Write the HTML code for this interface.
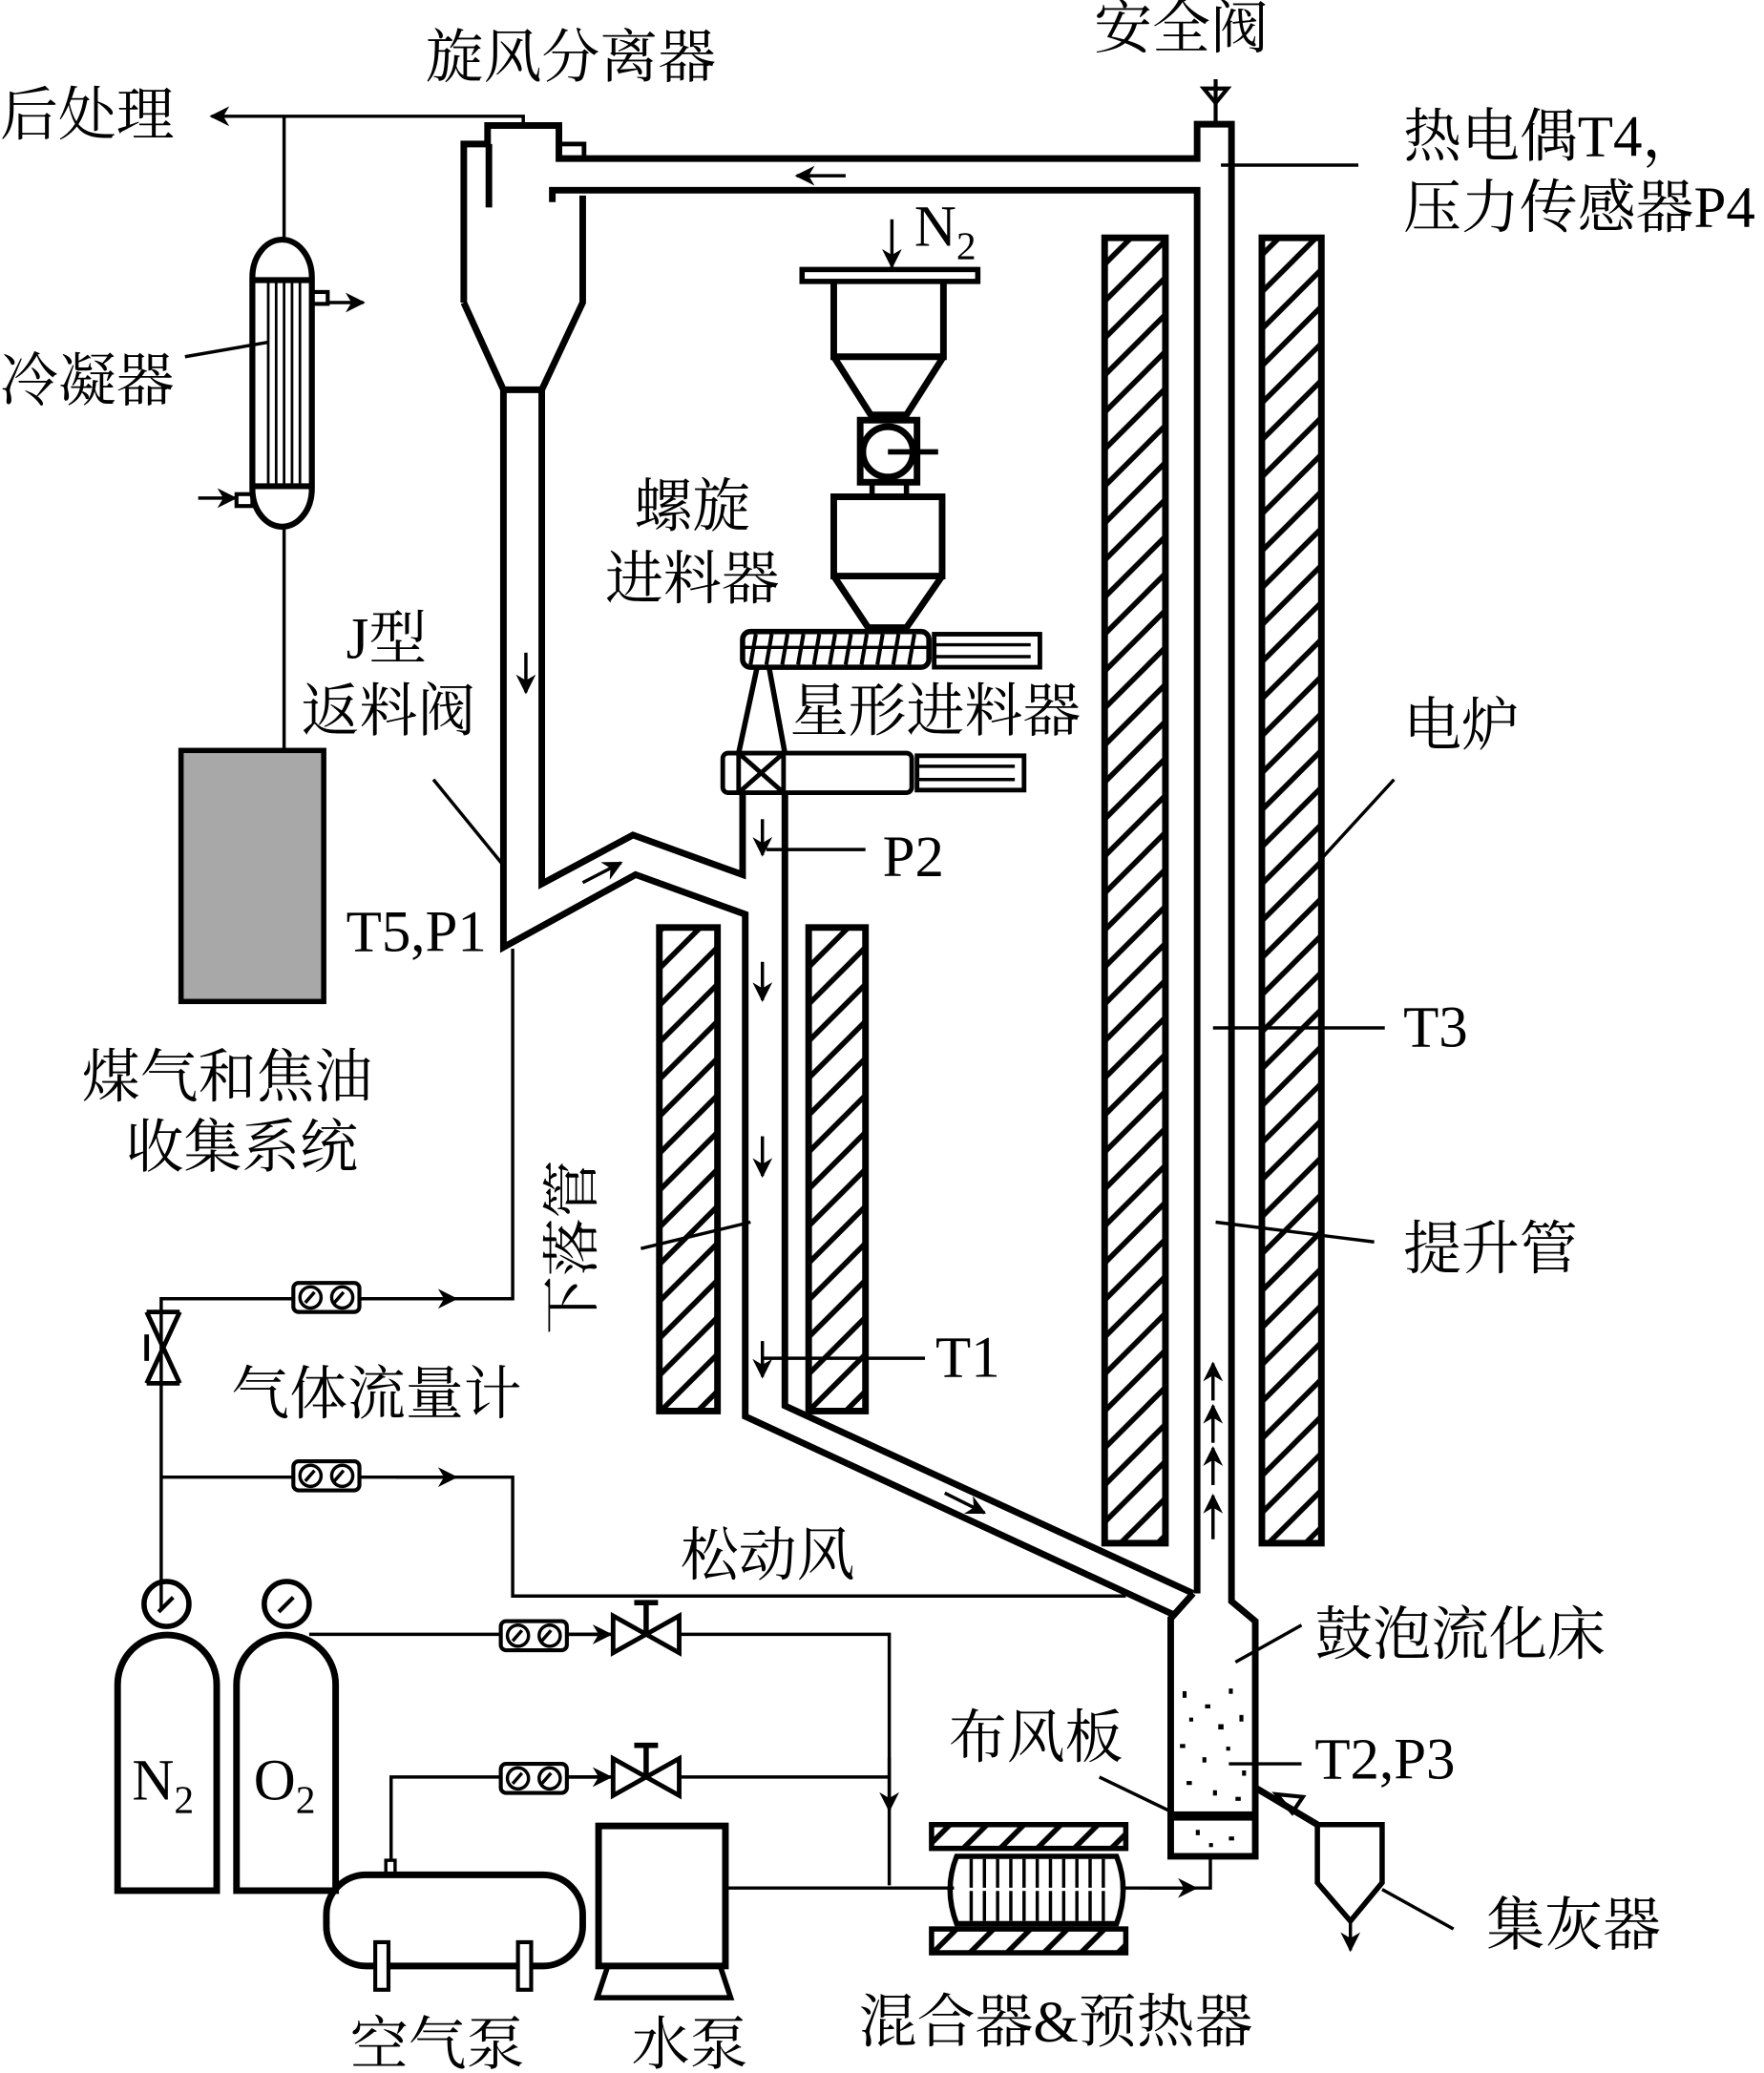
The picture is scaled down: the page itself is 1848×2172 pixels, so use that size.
<!DOCTYPE html>
<html><head><meta charset="utf-8"><style>
html,body{margin:0;padding:0;background:#fff;}
svg{display:block;}
text{font-family:"Liberation Serif","Noto Serif CJK SC","Noto Sans CJK SC",serif;font-size:44px;fill:#000;}
</style></head><body>
<svg width="1848" height="2172" viewBox="0 0 1335 1569" preserveAspectRatio="none" xmlns="http://www.w3.org/2000/svg">
<defs>
<pattern id="h" width="28" height="28" patternUnits="userSpaceOnUse">
<path d="M-7,35 L35,-7 M-21,21 L21,-21 M7,49 L49,7" stroke="#000" stroke-width="4"/>
</pattern>
<marker id="a" viewBox="0 0 10 10" refX="9" refY="5" markerWidth="6" markerHeight="6" orient="auto"><path d="M0,0 L10,5 L0,10 L3,5z" fill="#000"/></marker>
<g id="fm"><rect x="0" y="0" width="50" height="22" rx="4" fill="#fff" stroke="#000" stroke-width="3"/><circle cx="13" cy="11" r="8" fill="none" stroke="#000" stroke-width="2.5"/><circle cx="37" cy="11" r="8" fill="none" stroke="#000" stroke-width="2.5"/><path d="M9,15 L16,7 M31,15 L38,7" stroke="#000" stroke-width="2.5"/></g>
<g id="vl"><path d="M0,0 L50,28 L50,0 L0,28z" fill="#fff" stroke="#000" stroke-width="3.5"/><path d="M25,14 V-10 M16,-10 H34" stroke="#000" stroke-width="4"/></g>
</defs>
<g fill="none" stroke="#000" stroke-width="5" stroke-linejoin="miter">
<rect x="836" y="180" width="46" height="988" fill="url(#h)"/>
<rect x="955" y="180" width="45" height="988" fill="url(#h)"/>
<rect x="499" y="702" width="44" height="366" fill="url(#h)"/>
<rect x="612" y="702" width="43" height="366" fill="url(#h)"/>
<path d="M351,229 V109 H369 V95 H423 V120 H906 V94 H932 V1212 L950,1227 V1405 H886 V1225 L903,1206"/>
<path d="M351,229 L381,295 V717 L481,662 L564,692 V1072 L888,1222"/>
<path d="M441,148 V229 L410,295 V669 L479,632 L562,662 V600"/>
<path d="M418,153 V144 H906 V1206"/>
<path d="M594,600 V1064 L903,1206"/>
<path d="M370,109 V157"/>
<path d="M381,295 H410"/>
<rect x="423" y="109" width="19" height="11" stroke-width="3.5"/>
<path d="M920,94 V60" stroke-width="3"/>
<path d="M911,67 H929 L920,78z" stroke-width="3"/>
<rect x="607" y="204" width="133" height="9" stroke-width="4"/>
<path d="M631,213 V270 H714 V213 M631,270 L659,314 H686 L714,270"/>
<rect x="651" y="318" width="43" height="47"/>
<circle cx="672" cy="342" r="19"/>
<path d="M672,342 H710" stroke-width="4"/>
<path d="M660,365 V376 M686,365 V376 M660,314 V318 M686,314 V318" stroke-width="4"/>
<path d="M631,376 H713 V436 H631z M631,436 L657,475 H686 L713,436"/>
<rect x="562" y="478" width="141" height="27" rx="6" stroke-width="4"/>
<path d="M572,480 L568,503 M584,480 L580,503 M596,480 L592,503 M608,480 L604,503 M620,480 L616,503 M632,480 L628,503 M644,480 L640,503 M656,480 L652,503 M668,480 L664,503 M680,480 L676,503 M692,480 L688,503" stroke-width="3"/>
<path d="M562,490 H703" stroke-width="2.5"/>
<rect x="707" y="480" width="80" height="25" stroke-width="3.5"/>
<path d="M707,488 H780 M707,497 H780" stroke-width="2.5"/>
<path d="M573,505 L559,570 M582,505 L594,570" stroke-width="4"/>
<rect x="547" y="570" width="143" height="30" rx="4" stroke-width="3.5"/>
<path d="M559,570 V600 M593,570 V600 M559,570 L593,600 M593,570 L559,600" stroke-width="3.5"/>
<rect x="694" y="572" width="81" height="26" stroke-width="3.5"/>
<path d="M694,580 H768 M694,590 H768" stroke-width="2.5"/>
<path d="M191,210 A22,28 0 0 1 236,210 V370 A22,28 0 0 1 191,370z" stroke-width="4.5"/>
<path d="M191,212 H236 M191,368 H236" stroke-width="4.5"/>
<path d="M203,212 V368 M209,212 V368 M215,212 V368 M221,212 V368 M227,212 V368" stroke-width="2"/>
<rect x="236" y="221" width="12" height="9" stroke-width="3"/>
<rect x="179" y="374" width="12" height="9" stroke-width="3"/>
<rect x="137" y="568" width="108" height="190" fill="#a8a8a8" stroke-width="4"/>
<rect x="886" y="1371" width="64" height="7" fill="#000" stroke="none"/>
<path d="M950,1353 L997,1381"/>
<path d="M997,1381 H1046 V1425 L1022,1454 L997,1425z" stroke-width="4"/>
<path d="M966,1358 L978,1372 L986,1360z" stroke-width="3"/>
<path d="M89,1431 V1275 A37,37 0 0 1 164,1275 V1431z"/>
<path d="M179,1431 V1275 A37,37 0 0 1 254,1275 V1431z"/>
<circle cx="126" cy="1214" r="17" stroke-width="4"/>
<circle cx="217" cy="1214" r="17" stroke-width="4"/>
<path d="M120,1220 L131,1209 M211,1220 L222,1209" stroke-width="3"/>
<rect x="247" y="1419" width="194" height="69" rx="30"/>
<rect x="284" y="1470" width="10" height="36" fill="#fff" stroke-width="3"/>
<rect x="392" y="1470" width="10" height="36" fill="#fff" stroke-width="3"/>
<rect x="292" y="1408" width="7" height="11" stroke-width="2.5"/>
<rect x="453" y="1382" width="96" height="106"/>
<path d="M460,1488 L452,1512 H553 L545,1488" stroke-width="4"/>
<rect x="705" y="1381" width="147" height="18" fill="url(#h)" stroke-width="4"/>
<rect x="705" y="1460" width="147" height="18" fill="url(#h)" stroke-width="4"/>
<path d="M724,1405 H845 Q855,1430 845,1456 H724 Q714,1430 724,1405z" stroke-width="4"/>
<path d="M735,1407 V1454 M745,1407 V1454 M755,1407 V1454 M765,1407 V1454 M775,1407 V1454 M785,1407 V1454 M795,1407 V1454 M805,1407 V1454 M815,1407 V1454 M825,1407 V1454 M835,1407 V1454" stroke-width="2.5"/>
<path d="M728,1430 H840" stroke-width="2.5" stroke="#fff"/>
</g>
<g fill="none" stroke="#000" stroke-width="2.5">
<path d="M396,95 V88 H160" marker-end="url(#a)"/>
<path d="M215,88 V182 M215,398 V568"/>
<path d="M248,229 H275" marker-end="url(#a)"/>
<path d="M150,377 H178" marker-end="url(#a)"/>
<path d="M140,270 L203,259"/>
<path d="M388,718 V983 H122 V1218 M122,1118 H388 V1208 H852"/>
<path d="M300,983 H345" marker-end="url(#a)"/>
<path d="M300,1118 H345" marker-end="url(#a)"/>
<path d="M234,1237 H673 V1427 M296,1408 V1345 H673 M549,1429 H722"/>
<path d="M848,1429 H916 V1405"/>
<path d="M870,1429 H905" marker-end="url(#a)"/>
<path d="M673,1330 V1370" marker-end="url(#a)"/>
<path d="M430,1237 H462" marker-end="url(#a)"/>
<path d="M430,1345 H462" marker-end="url(#a)"/>
<path d="M1022,1454 V1476" marker-end="url(#a)"/>
<path d="M675,166 V202" marker-end="url(#a)"/>
<path d="M924,125 H1028 M328,590 L381,655 M1055,590 L1000,650 M580,643 H655 M918,778 H1048 M920,925 L1040,940 M485,945 L568,925 M577,1028 H700 M935,1258 L985,1230 M930,1335 H985 M832,1345 L888,1372 M1046,1430 L1100,1460"/>
<path d="M640,133 H603" marker-end="url(#a)"/>
<path d="M398,494 V524" marker-end="url(#a)"/>
<path d="M441,668 L470,653" marker-end="url(#a)"/>
<path d="M577,620 V647" marker-end="url(#a)"/>
<path d="M577,728 V757" marker-end="url(#a)"/>
<path d="M577,860 V890" marker-end="url(#a)"/>
<path d="M577,1015 V1042" marker-end="url(#a)"/>
<path d="M715,1130 L745,1145" marker-end="url(#a)"/>
<path d="M918,1060 V1032" marker-end="url(#a)"/>
<path d="M918,1092 V1064" marker-end="url(#a)"/>
<path d="M918,1124 V1096" marker-end="url(#a)"/>
<path d="M918,1165 V1132" marker-end="url(#a)"/>
</g>
<g stroke="#000" stroke-width="3.5"><path d="M111,993 L136,1047 M136,993 L111,1047 M111,993 H136 M111,1047 H136" fill="#fff"/><path d="M111,1010 V1030"/></g>
<use href="#fm" x="222" y="971"/>
<use href="#fm" x="222" y="1106"/>
<use href="#fm" x="379" y="1227"/>
<use href="#fm" x="379" y="1335"/>
<use href="#vl" x="464" y="1223"/>
<use href="#vl" x="464" y="1331"/>
<g fill="#000">
<rect x="895" y="1280" width="3" height="5"/><rect x="912" y="1290" width="4" height="3"/><rect x="930" y="1278" width="3" height="4"/><rect x="900" y="1300" width="3" height="3"/><rect x="922" y="1305" width="4" height="4"/><rect x="938" y="1298" width="3" height="5"/><rect x="893" y="1320" width="4" height="3"/><rect x="910" y="1330" width="3" height="4"/><rect x="928" y="1322" width="3" height="3"/><rect x="940" y="1340" width="3" height="4"/><rect x="898" y="1348" width="4" height="3"/><rect x="918" y="1355" width="3" height="4"/><rect x="935" y="1360" width="4" height="3"/><rect x="905" y="1385" width="3" height="4"/><rect x="930" y="1390" width="4" height="3"/><rect x="915" y="1395" width="3" height="3"/>
</g>
<text x="0" y="102">后处理</text>
<text x="322" y="58">旋风分离器</text>
<text x="828" y="36">安全阀</text>
<text x="1062" y="118">热电偶T4，</text>
<text x="1062" y="172">压力传感器P4</text>
<text x="0" y="303">冷凝器</text>
<text x="480" y="398">螺旋</text>
<text x="458" y="453">进料器</text>
<text x="262" y="498">J型</text>
<text x="228" y="553">返料阀</text>
<text x="598" y="553">星形进料器</text>
<text x="1062" y="564">电炉</text>
<text x="668" y="663">P2</text>
<text x="262" y="720">T5,P1</text>
<text x="1062" y="792">T3</text>
<text x="62" y="830">煤气和焦油</text>
<text x="95" y="883">收集系统</text>
<text x="1062" y="960">提升管</text>
<text x="708" y="1042">T1</text>
<text x="175" y="1070">气体流量计</text>
<text x="515" y="1192">松动风</text>
<text x="995" y="1252">鼓泡流化床</text>
<text x="718" y="1330">布风板</text>
<text x="995" y="1346">T2,P3</text>
<text x="100" y="1362">N<tspan font-size="30" dy="10">2</tspan></text>
<text x="192" y="1362">O<tspan font-size="30" dy="10">2</tspan></text>
<text x="692" y="186">N<tspan font-size="30" dy="10">2</tspan></text>
<text x="1125" y="1472">集灰器</text>
<text x="265" y="1562">空气泵</text>
<text x="478" y="1562">水泵</text>
<text x="650" y="1545">混合器&amp;预热器</text>
<text transform="translate(448,1010) rotate(-90)">下落管</text>
</svg>
</body></html>
